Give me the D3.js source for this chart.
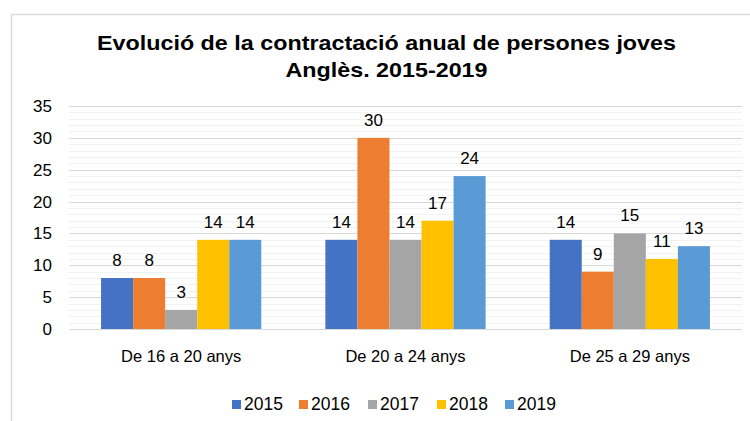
<!DOCTYPE html>
<html>
<head>
<meta charset="utf-8">
<script src="https://cdn.jsdelivr.net/npm/d3@7"></script>
<style>
  body { margin: 0; background: #fff; }
  text { font-family: "Liberation Sans", Arial, sans-serif; fill: #000; }
</style>
</head>
<body>
<div class="canvas"></div>
<script>
const categories = ["De 16 a 20 anys", "De 20 a 24 anys", "De 25 a 29 anys"];
const years = ["2015", "2016", "2017", "2018", "2019"];
const v2015 = [8, 14, 14];
const v2016 = [8, 30, 9];
const v2017 = [3, 14, 15];
const v2018 = [14, 17, 11];
const v2019 = [14, 24, 13];
const yTicks = [0, 5, 10, 15, 20, 25, 30, 35];
const colors = ["#4472C4", "#ED7D31", "#A5A5A5", "#FFC000", "#5B9BD5"];
const titleLines = ["Evolució de la contractació anual de persones joves", "Anglès. 2015-2019"];

const series = [v2015, v2016, v2017, v2018, v2019];

const width = 750;
const height = 421;
const margin = { top: 106, right: 8, bottom: 92, left: 69 };
const graphWidth = width - margin.left - margin.right;
const graphHeight = height - margin.top - margin.bottom;

const svg = d3
  .select(".canvas")
  .append("svg")
  .attr("width", width)
  .attr("height", height);

// chart frame
svg
  .append("path")
  .attr("d", "M11.5,421 L11.5,14.5 L750,14.5")
  .attr("fill", "none")
  .attr("stroke", "#d9d9d9")
  .attr("stroke-width", 1.5);

// title (the source picture is a bit wider than the font, so stretch it)
const titleWidths = [579, 202];
svg
  .append("g")
  .selectAll("text")
  .data(titleLines)
  .enter()
  .append("text")
  .attr("x", 386.5)
  .attr("y", (d, i) => 50 + i * 27)
  .attr("text-anchor", "middle")
  .attr("font-size", 21)
  .attr("font-weight", "bold")
  .attr("textLength", (d, i) => titleWidths[i])
  .attr("lengthAdjust", "spacingAndGlyphs")
  .text((d) => d);

const graph = svg
  .append("g")
  .attr("transform", `translate(${margin.left}, ${margin.top})`);

// scales
const x0 = d3.scaleBand().domain(categories).range([0, graphWidth]).paddingInner(0.2857).paddingOuter(0.1429);
const x1 = d3.scaleBand().domain(years).range([0, x0.bandwidth()]);
const y = d3.scaleLinear().domain([0, 35]).range([graphHeight, 0]);

// minor gridlines
graph
  .append("g")
  .selectAll("line")
  .data(d3.range(0, 36).filter((d) => d % 5 !== 0))
  .enter()
  .append("line")
  .attr("x1", 0)
  .attr("x2", graphWidth)
  .attr("y1", (d) => Math.round(y(d)) + 0.5)
  .attr("y2", (d) => Math.round(y(d)) + 0.5)
  .attr("stroke", "#f2f2f2");

// major gridlines
graph
  .append("g")
  .selectAll("line")
  .data(yTicks)
  .enter()
  .append("line")
  .attr("x1", 0)
  .attr("x2", graphWidth)
  .attr("y1", (d) => Math.round(y(d)) + 0.5)
  .attr("y2", (d) => Math.round(y(d)) + 0.5)
  .attr("stroke", "#d9d9d9");

// y axis
const yAxis = d3.axisLeft(y).tickValues(yTicks).tickSize(0).tickPadding(17);
const yAxisGroup = graph.append("g").call(yAxis);
yAxisGroup.select(".domain").remove();
yAxisGroup
  .selectAll("text")
  .attr("font-size", 17)
  .attr("font-family", "Liberation Sans, Arial, sans-serif")
  .attr("fill", "#000");

// x axis
const xAxis = d3.axisBottom(x0).tickSize(0).tickPadding(21);
const xAxisGroup = graph
  .append("g")
  .attr("transform", `translate(0, ${graphHeight})`)
  .call(xAxis);
xAxisGroup.select(".domain").remove();
xAxisGroup
  .selectAll("text")
  .attr("font-size", 16.5)
  .attr("font-family", "Liberation Sans, Arial, sans-serif")
  .attr("fill", "#000");

// bars
const groups = graph
  .selectAll(".series")
  .data(series)
  .enter()
  .append("g")
  .attr("class", "series")
  .attr("fill", (d, i) => colors[i]);

groups
  .selectAll("rect")
  .data((d, i) => d.map((v, j) => ({ cat: categories[j], year: years[i], value: v })))
  .enter()
  .append("rect")
  .attr("x", (d) => x0(d.cat) + x1(d.year))
  .attr("y", (d) => y(d.value))
  .attr("width", x1.bandwidth())
  .attr("height", (d) => graphHeight - y(d.value));

// data labels
groups
  .selectAll("text")
  .data((d, i) => d.map((v, j) => ({ cat: categories[j], year: years[i], value: v })))
  .enter()
  .append("text")
  .attr("x", (d) => x0(d.cat) + x1(d.year) + x1.bandwidth() / 2)
  .attr("y", (d) => y(d.value) - 12)
  .attr("text-anchor", "middle")
  .attr("font-size", 17)
  .text((d) => d.value);

// legend
const legendX = [232, 299, 368, 437, 505];
const legend = svg
  .append("g")
  .selectAll("g")
  .data(years)
  .enter()
  .append("g")
  .attr("transform", (d, i) => `translate(${legendX[i]}, 400)`);

legend
  .append("rect")
  .attr("width", 9)
  .attr("height", 9)
  .attr("fill", (d, i) => colors[i]);

legend
  .append("text")
  .attr("x", 12)
  .attr("y", 10)
  .attr("font-size", 17.5)
  .text((d) => d);
</script>
</body>
</html>
